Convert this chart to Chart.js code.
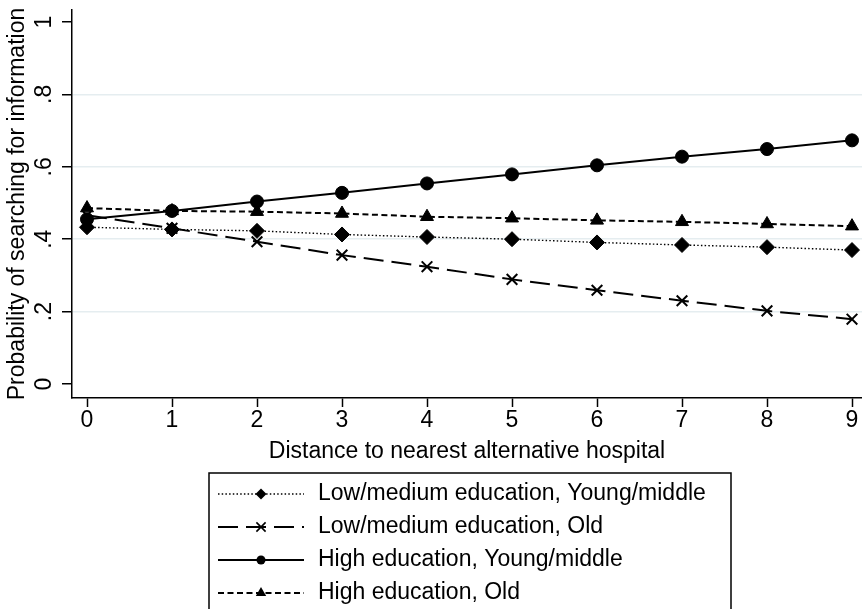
<!DOCTYPE html>
<html>
<head>
<meta charset="utf-8">
<script src="https://cdn.jsdelivr.net/npm/chart.js@4"></script>
<style>
  html, body { margin: 0; padding: 0; background: #fff; overflow: hidden; }
  #wrap { width: 862px; height: 609px; position: relative; }
  #wrap canvas { display: block; }
</style>
</head>
<body>
<div id="wrap"><canvas id="chart"></canvas></div>
<script>
// Data
const distance = [0, 1, 2, 3, 4, 5, 6, 7, 8, 9];
const lowYoung  = [0.433, 0.427, 0.423, 0.413, 0.406, 0.400, 0.391, 0.384, 0.378, 0.370];
const lowOld    = [0.466, 0.430, 0.393, 0.356, 0.324, 0.289, 0.259, 0.230, 0.202, 0.179];
const highYoung = [0.455, 0.478, 0.504, 0.528, 0.554, 0.579, 0.604, 0.628, 0.649, 0.673];
const highOld   = [0.486, 0.478, 0.476, 0.471, 0.462, 0.458, 0.452, 0.448, 0.442, 0.436];
const yTicks = [0, 0.2, 0.4, 0.6, 0.8, 1];
const seriesNames = [
  "Low/medium education, Young/middle",
  "Low/medium education, Old",
  "High education, Young/middle",
  "High education, Old"
];

const FONT = "'Liberation Sans', Arial, Helvetica, sans-serif";
const FS = 23;
const pts = vals => distance.map((d, i) => ({ x: d, y: vals[i] }));

// Series styles (line dash, marker)
function series(name, vals, dash, width, style, radius, order) {
  return {
    label: name,
    data: pts(vals),
    borderColor: "#000",
    backgroundColor: "#000",
    borderWidth: width,
    borderDash: dash,
    pointStyle: style,
    pointRadius: radius,
    pointBackgroundColor: "#000",
    pointBorderColor: "#000",
    pointBorderWidth: style === "crossRot" ? 2 : 1,
    tension: 0,
    clip: false,
    order: order
  };
}

const datasets = [
  series(seriesNames[0], lowYoung,  [1.5, 2.2], 1.4, "rectRot", 7.5, 3),
  series(seriesNames[1], lowOld,    [20, 8],    2,   "crossRot", 7.5, 2),
  series(seriesNames[2], highYoung, [],         2,   "circle", 6.5, 1),
  series(seriesNames[3], highOld,   [6, 3.5],   2,   "triangle", 7.5, 0)
];

// legend markers (smaller than the plot ones)
function marker(ctx, style, x, y, r) {
  ctx.beginPath();
  if (style === "circle") {
    ctx.arc(x, y, r, 0, Math.PI * 2);
    ctx.fill();
  } else if (style === "rectRot") {
    ctx.moveTo(x, y - r); ctx.lineTo(x + r, y); ctx.lineTo(x, y + r); ctx.lineTo(x - r, y);
    ctx.closePath(); ctx.fill();
  } else if (style === "triangle") {
    ctx.moveTo(x, y - r); ctx.lineTo(x + r * 0.866, y + r * 0.5); ctx.lineTo(x - r * 0.866, y + r * 0.5);
    ctx.closePath(); ctx.fill();
  } else if (style === "crossRot") {
    const o = r * 0.707;
    ctx.moveTo(x - o, y - o); ctx.lineTo(x + o, y + o);
    ctx.moveTo(x + o, y - o); ctx.lineTo(x - o, y + o);
    ctx.lineWidth = 1.6; ctx.setLineDash([]); ctx.stroke();
  }
}

const legendBox = {
  id: "legendBox",
  afterDraw(chart) {
    const ctx = chart.ctx;
    const left = 209, right = 731, top = 473;
    ctx.save();
    ctx.strokeStyle = "#000";
    ctx.lineWidth = 1.5;
    ctx.setLineDash([]);
    ctx.beginPath();
    ctx.moveTo(left, 612); ctx.lineTo(left, top); ctx.lineTo(right, top); ctx.lineTo(right, 612);
    ctx.stroke();

    const legR = { rectRot: 5.5, crossRot: 6.5, circle: 4.5, triangle: 6 };
    chart.data.datasets.forEach((ds, i) => {
      const y = 494 + i * 33;
      ctx.strokeStyle = "#000";
      ctx.fillStyle = "#000";
      ctx.lineWidth = ds.borderWidth;
      ctx.setLineDash(ds.borderDash);
      ctx.beginPath();
      ctx.moveTo(218, y); ctx.lineTo(304, y);
      ctx.stroke();
      ctx.setLineDash([]);
      marker(ctx, ds.pointStyle, 261, y, legR[ds.pointStyle]);
      ctx.fillStyle = "#000";
      ctx.font = FS + "px " + FONT;
      ctx.textAlign = "left";
      ctx.textBaseline = "middle";
      ctx.fillText(ds.label, 318, y);
    });
    ctx.restore();
  }
};

new Chart(document.getElementById("chart"), {
  type: "line",
  data: { datasets: datasets },
  plugins: [legendBox],
  options: {
    responsive: true,
    maintainAspectRatio: false,
    devicePixelRatio: 1,
    animation: false,
    layout: { autoPadding: false, padding: { top: 10, bottom: 141, left: 0, right: 0 } },
    plugins: { legend: { display: false }, tooltip: { enabled: false } },
    scales: {
      x: {
        type: "linear",
        min: -0.1765,
        max: 9.1176,
        afterBuildTicks: s => { s.ticks = distance.map(v => ({ value: v })); },
        afterFit: s => { s.height = 70; s.paddingLeft = 0; s.paddingRight = 0; },
        grid: { drawOnChartArea: false, drawTicks: true, tickLength: 9, tickWidth: 1.5, tickColor: "#000" },
        border: { display: true, color: "#000", width: 1.5 },
        ticks: { color: "#000", font: { family: FONT, size: FS }, padding: 0, maxRotation: 0, autoSkip: false },
        title: { display: true, text: "Distance to nearest alternative hospital", color: "#000",
                 font: { family: FONT, size: FS }, padding: { top: 0, bottom: 3 } }
      },
      y: {
        min: -0.0387,
        max: 1.0331,
        afterBuildTicks: s => { s.ticks = yTicks.map(v => ({ value: v })); },
        afterFit: s => { s.width = 72; s.paddingTop = 0; s.paddingBottom = 0; },
        grid: {
          color: c => (c.tick && (c.tick.value === 0 || c.tick.value === 1)) ? "rgba(0,0,0,0)" : "#e5edf0",
          lineWidth: 1.5,
          tickColor: "#000",
          tickLength: 10,
          tickWidth: 1.5
        },
        border: { display: true, color: "#000", width: 1.5 },
        ticks: {
          color: "#000",
          font: { family: FONT, size: FS },
          minRotation: 90,
          maxRotation: 90,
          crossAlign: "center",
          padding: 8,
          callback: v => v === 0 ? "0" : v === 1 ? "1" : "." + Math.round(v * 10)
        },
        title: { display: true, text: "Probability of searching for information", color: "#000",
                 font: { family: FONT, size: FS }, padding: { top: 4 } }
      }
    }
  }
});
</script>
</body>
</html>
